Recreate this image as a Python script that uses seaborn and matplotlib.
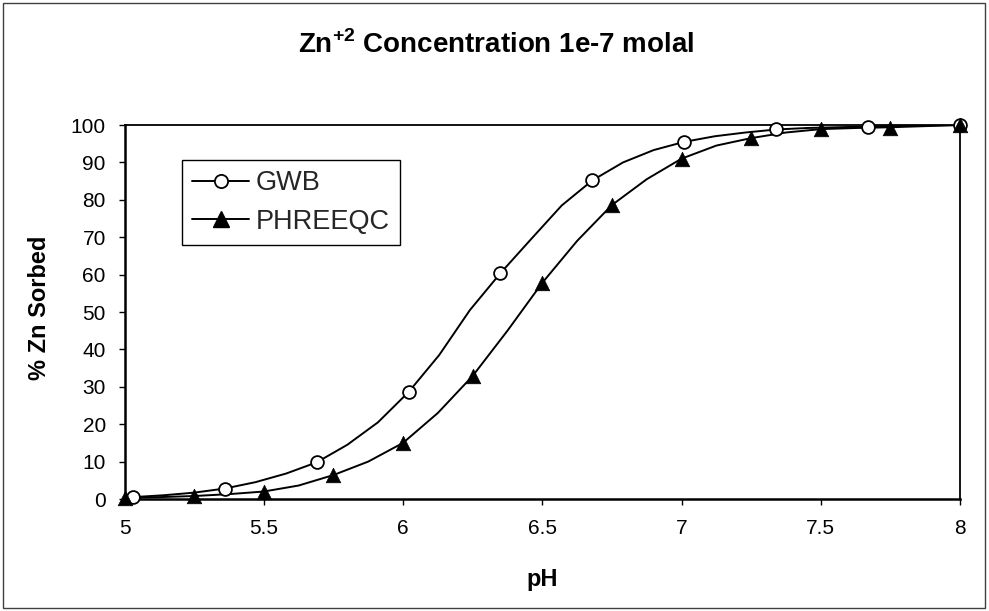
import matplotlib
matplotlib.use("Agg")
import matplotlib.pyplot as plt
import seaborn as sns
import pandas as pd
from matplotlib.lines import Line2D
from matplotlib.patches import Rectangle

# ---- data ----
gwb_line_ph = [5.03, 5.14, 5.25, 5.36, 5.47, 5.58, 5.69, 5.80, 5.91, 6.02, 6.13, 6.24,
               6.35, 6.46, 6.57, 6.68, 6.79, 6.90, 7.01, 7.12, 7.23, 7.34, 7.45, 7.56,
               7.67, 7.78, 7.89, 8.00]
gwb_line_pct = [0.5, 1.0, 1.7, 2.8, 4.5, 6.8, 9.8, 14.5, 20.5, 28.6, 38.5, 50.5,
                60.4, 69.5, 78.5, 85.2, 90.0, 93.3, 95.5, 97.0, 98.0, 98.8, 99.2, 99.4,
                99.6, 99.8, 99.9, 100.0]
gwb_mark_ph = [5.03, 5.36, 5.69, 6.02, 6.35, 6.68, 7.01, 7.34, 7.67, 8.00]
gwb_mark_pct = [0.5, 2.8, 9.8, 28.6, 60.4, 85.2, 95.5, 98.8, 99.6, 100.0]

phq_line_ph = [5.0, 5.125, 5.25, 5.375, 5.5, 5.625, 5.75, 5.875, 6.0, 6.125, 6.25, 6.375,
               6.5, 6.625, 6.75, 6.875, 7.0, 7.125, 7.25, 7.375, 7.5, 7.625, 7.75, 7.875, 8.0]
phq_line_pct = [0.3, 0.5, 0.8, 1.3, 2.0, 3.6, 6.4, 10.0, 15.0, 23.0, 32.9, 45.0,
                57.8, 69.0, 78.6, 85.5, 91.0, 94.5, 96.5, 98.0, 98.9, 99.2, 99.4, 99.7, 100.0]
phq_mark_ph = [5.0, 5.25, 5.5, 5.75, 6.0, 6.25, 6.5, 6.75, 7.0, 7.25, 7.5, 7.75, 8.0]
phq_mark_pct = [0.3, 0.8, 2.0, 6.4, 15.0, 32.9, 57.8, 78.6, 91.0, 96.5, 98.9, 99.2, 100.0]

x_ticks = [5, 5.5, 6, 6.5, 7, 7.5, 8]
x_tick_labels = ["5", "5.5", "6", "6.5", "7", "7.5", "8"]
y_ticks = list(range(0, 101, 10))
series_names = ["GWB", "PHREEQC"]

# ---- style ----
sns.set_theme(style="white")
plt.rcParams["font.family"] = ["Liberation Sans", "DejaVu Sans"]
plt.rcParams["mathtext.fontset"] = "custom"
plt.rcParams["mathtext.rm"] = "Liberation Sans"
plt.rcParams["mathtext.bf"] = "Liberation Sans:bold"

fig = plt.figure(figsize=(9.89, 6.11), dpi=100)
fig.patch.set_facecolor("white")
fig.patches.append(Rectangle((0.003, 0.005), 0.993, 0.99, transform=fig.transFigure,
                             fill=False, edgecolor="#404040", linewidth=1.0))

ax = fig.add_axes([0.1259, 0.1833, 0.8448, 0.6121])

gwb_line = pd.DataFrame({"pH": gwb_line_ph, "pct": gwb_line_pct})
phq_line = pd.DataFrame({"pH": phq_line_ph, "pct": phq_line_pct})
gwb_mark = pd.DataFrame({"pH": gwb_mark_ph, "pct": gwb_mark_pct})
phq_mark = pd.DataFrame({"pH": phq_mark_ph, "pct": phq_mark_pct})

sns.lineplot(data=gwb_line, x="pH", y="pct", ax=ax, color="black", linewidth=1.4,
             estimator=None, sort=False)
sns.lineplot(data=phq_line, x="pH", y="pct", ax=ax, color="black", linewidth=1.4,
             estimator=None, sort=False)
sns.scatterplot(data=gwb_mark, x="pH", y="pct", ax=ax, marker="o", s=85,
                facecolor="white", edgecolor="black", linewidth=1.3, zorder=5, clip_on=False)
sns.scatterplot(data=phq_mark, x="pH", y="pct", ax=ax, marker="^", s=110,
                color="black", edgecolor="black", linewidth=0.5, zorder=6, clip_on=False)

ax.set_xlim(5, 8)
ax.set_ylim(0, 100)
ax.set_xticks(x_ticks)
ax.set_xticklabels(x_tick_labels)
ax.set_yticks(y_ticks)
ax.tick_params(axis="both", direction="out", length=4.5, width=1.0, color="black",
               labelsize=15, labelcolor="black", bottom=True, left=True)
ax.tick_params(axis="x", pad=10)
ax.tick_params(axis="y", pad=9)

for side in ["left", "bottom"]:
    ax.spines[side].set_color("black")
    ax.spines[side].set_linewidth(1.8)
for side in ["top", "right"]:
    ax.spines[side].set_color("black")
    ax.spines[side].set_linewidth(1.3)
    ax.spines[side].set_visible(True)

ax.set_xlabel("pH", fontsize=17, fontweight="bold", color="black")
ax.set_ylabel("% Zn Sorbed", fontsize=17, fontweight="bold", color="black")
ax.xaxis.set_label_coords(0.5, -0.185)
ax.yaxis.set_label_coords(-0.088, 0.51)

fig.text(496 / 989, 1 - 45 / 611, r"Zn$^{\mathbf{+2}}$ Concentration 1e-7 molal",
         ha="center", va="center", fontsize=20, fontweight="bold", color="black")

handles = [
    Line2D([], [], color="black", linewidth=1.4, marker="o", markersize=9.5,
           markerfacecolor="white", markeredgecolor="black", markeredgewidth=1.3),
    Line2D([], [], color="black", linewidth=1.4, marker="^", markersize=11,
           markerfacecolor="black", markeredgecolor="black"),
]
leg = ax.legend(handles, series_names, loc="upper left", bbox_to_anchor=(0.0688, 0.906),
                borderaxespad=0, fontsize=19.5, frameon=True, fancybox=False, shadow=False,
                handlelength=2.1, handletextpad=0.25, labelspacing=0.45, borderpad=0.38)
leg.get_frame().set_edgecolor("black")
leg.get_frame().set_linewidth(1.0)
leg.get_frame().set_facecolor("white")
leg.get_frame().set_alpha(1)

fig.savefig("out.png", dpi=100, facecolor="white")
